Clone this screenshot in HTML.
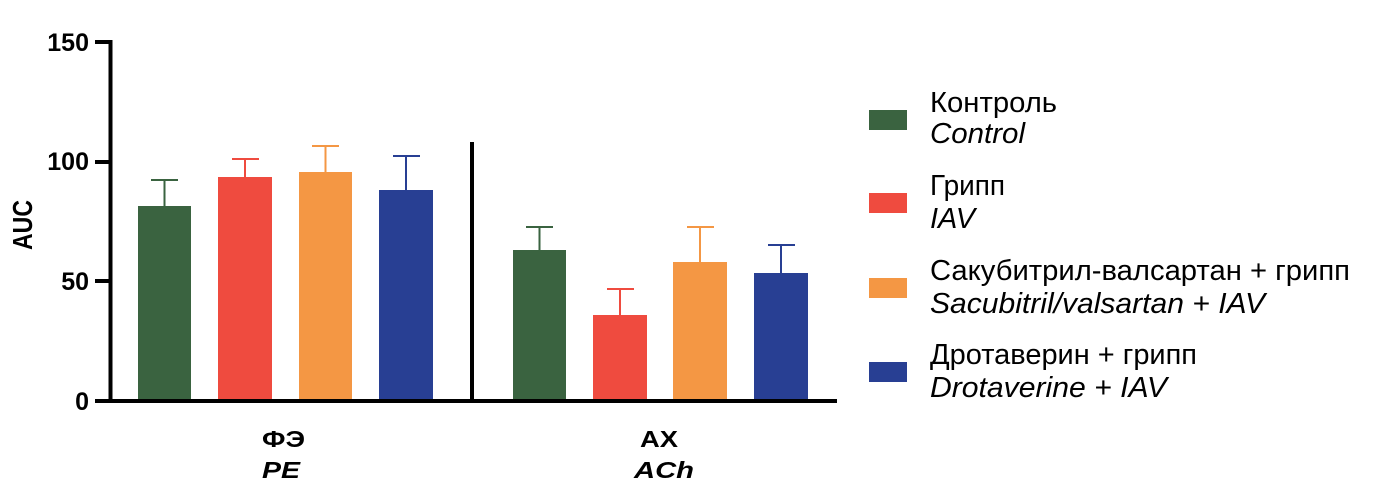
<!DOCTYPE html>
<html><head><meta charset="utf-8"><style>
html,body{margin:0;padding:0;background:#fff;}
svg text{font-family:"Liberation Sans",Arial,sans-serif;}
</style></head><body>
<svg width="1373" height="497" viewBox="0 0 1373 497" xmlns="http://www.w3.org/2000/svg">
<g>
<rect x="138" y="206" width="53" height="195" fill="#3a6340"/>
<rect x="218" y="177" width="54" height="224" fill="#ef4b3f"/>
<rect x="299" y="172" width="53" height="229" fill="#f49744"/>
<rect x="379" y="190" width="54" height="211" fill="#283f93"/>
<rect x="513" y="250" width="53" height="151" fill="#3a6340"/>
<rect x="593" y="315" width="54" height="86" fill="#ef4b3f"/>
<rect x="673" y="262" width="54" height="139" fill="#f49744"/>
<rect x="754" y="273" width="54" height="128" fill="#283f93"/>
</g>
<g stroke-width="2" fill="none">
<path d="M164.5 206V180M151 180H178" stroke="#3a6340"/>
<path d="M245 177V159M232 159H259" stroke="#ef4b3f"/>
<path d="M325.5 172V146M312 146H339" stroke="#f49744"/>
<path d="M406 190V156M393 156H420" stroke="#283f93"/>
<path d="M539.5 250V227M526 227H553" stroke="#3a6340"/>
<path d="M620 315V289M607 289H634" stroke="#ef4b3f"/>
<path d="M700 262V227M687 227H714" stroke="#f49744"/>
<path d="M781 273V245M768 245H795" stroke="#283f93"/>
</g>
<g stroke="#000" stroke-width="4">
<path d="M110.5 40V403"/>
<path d="M95 401H837"/>
<path d="M95 42H110M95 162H110M95 281H110"/>
<path d="M472 142V401"/>
</g>
<g font-size="25" font-weight="bold" text-anchor="end">
<text x="89" y="51">150</text>
<text x="89" y="170">100</text>
<text x="89" y="290">50</text>
<text x="89" y="410">0</text>
</g>
<text transform="translate(32,250) rotate(-90)" font-size="28" font-weight="bold" textLength="50" lengthAdjust="spacingAndGlyphs">AUC</text>
<g font-size="23" font-weight="bold">
<text x="262" y="447" textLength="43" lengthAdjust="spacingAndGlyphs">ФЭ</text>
<text x="262" y="478" font-style="italic" textLength="38" lengthAdjust="spacingAndGlyphs">PE</text>
<text x="640" y="447" textLength="38" lengthAdjust="spacingAndGlyphs">AX</text>
<text x="634" y="478" font-style="italic" textLength="60" lengthAdjust="spacingAndGlyphs">ACh</text>
</g>
<rect x="869" y="110" width="38" height="20" fill="#3a6340"/>
<rect x="869" y="193" width="38" height="20" fill="#ef4b3f"/>
<rect x="869" y="278" width="38" height="20" fill="#f49744"/>
<rect x="869" y="362" width="38" height="20" fill="#283f93"/>
<g font-size="29">
<text x="930" y="112" textLength="127" lengthAdjust="spacingAndGlyphs">Контроль</text>
<text x="930" y="143" font-style="italic" textLength="95" lengthAdjust="spacingAndGlyphs">Control</text>
<text x="930" y="195" textLength="75" lengthAdjust="spacingAndGlyphs">Грипп</text>
<text x="930" y="228" font-style="italic" textLength="45" lengthAdjust="spacingAndGlyphs">IAV</text>
<text x="930" y="280" textLength="420" lengthAdjust="spacingAndGlyphs">Сакубитрил-валсартан + грипп</text>
<text x="930" y="313" font-style="italic" textLength="335" lengthAdjust="spacingAndGlyphs">Sacubitril/valsartan + IAV</text>
<text x="930" y="364" textLength="267" lengthAdjust="spacingAndGlyphs">Дротаверин + грипп</text>
<text x="930" y="397" font-style="italic" textLength="237" lengthAdjust="spacingAndGlyphs">Drotaverine + IAV</text>
</g>
</svg>
</body></html>
